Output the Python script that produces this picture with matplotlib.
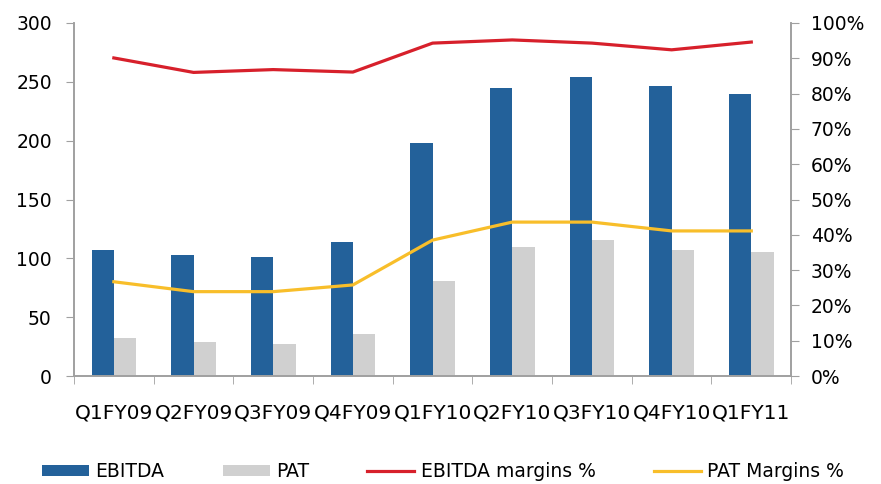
import matplotlib
matplotlib.use("Agg")
import matplotlib.pyplot as plt
import numpy as np

categories = ["Q1FY09", "Q2FY09", "Q3FY09", "Q4FY09", "Q1FY10", "Q2FY10", "Q3FY10", "Q4FY10", "Q1FY11"]
ebitda = [107.5, 103, 101.5, 114, 198, 245, 254, 246.5, 240]
pat = [32.5, 28.5, 27.5, 35.5, 80.5, 110, 115.5, 107.5, 105]
ebitda_margin = [90.1, 86.0, 86.8, 86.1, 94.3, 95.2, 94.3, 92.4, 94.6]
pat_margin = [26.7, 23.9, 23.9, 25.8, 38.5, 43.6, 43.6, 41.1, 41.1]

BLUE = "#23619A"
GREY = "#D0D0D0"
RED = "#D7202B"
YELLOW = "#F8BE2A"
AXC = "#A0A0A0"

plt.rcParams['font.family'] = ['DejaVu Sans']

fig = plt.figure(figsize=(8.81, 4.84), dpi=100)
ax = fig.add_axes([0.084, 0.2231, 0.814, 0.7294])
ax2 = ax.twinx()

x = np.arange(len(categories))
w = 0.28
b1 = ax.bar(x - w / 2, ebitda, width=w, color=BLUE, label="EBITDA", zorder=2)
b2 = ax.bar(x + w / 2, pat, width=w, color=GREY, label="PAT", zorder=2)

l1, = ax2.plot(x, ebitda_margin, color=RED, lw=2.3, label="EBITDA margins %")
l2, = ax2.plot(x, pat_margin, color=YELLOW, lw=2.3, label="PAT Margins %")

ax.set_xlim(-0.5, len(categories) - 0.5)
ax.set_ylim(0, 300)
ax.set_yticks(range(0, 301, 50))
ax2.set_ylim(0, 100)
ax2.set_yticks(range(0, 101, 10))
ax2.set_yticklabels([f"{v}%" for v in range(0, 101, 10)])

ax.set_xticks(x)
ax.set_xticklabels(categories)
ax.set_xticks(np.arange(-0.5, len(categories), 1.0), minor=True)
ax.tick_params(axis='x', which='major', length=0, pad=20, labelsize=14.5)
ax.tick_params(axis='x', which='minor', length=6, color=AXC, direction='out')
ax.tick_params(axis='y', length=6, color=AXC, labelsize=13.5, pad=10)
ax2.tick_params(axis='y', length=6, color=AXC, labelsize=13.5, pad=8)

for a in (ax, ax2):
    a.spines['top'].set_visible(False)
    for s in ('left', 'right', 'bottom'):
        a.spines[s].set_color(AXC)
        a.spines[s].set_linewidth(1.2)

fig.legend(handles=[b1, b2, l1, l2], loc='center', bbox_to_anchor=(0.503, 0.025), ncol=4,
           frameon=False, fontsize=13.5, handlelength=2.5, handleheight=0.55,
           columnspacing=3.1, handletextpad=0.35)

fig.savefig("out.png", dpi=100)
